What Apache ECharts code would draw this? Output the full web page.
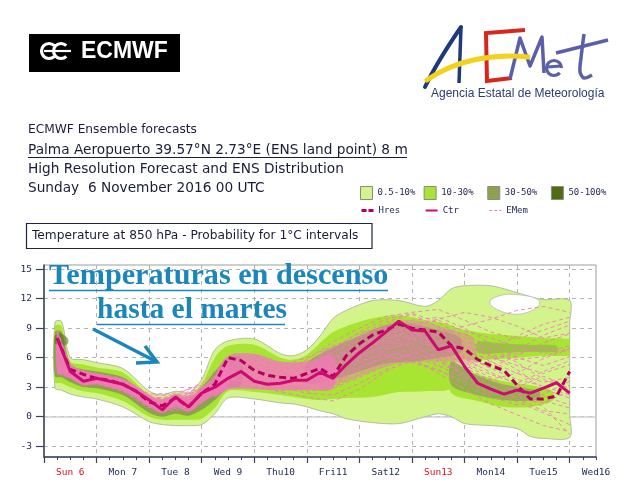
<!DOCTYPE html>
<html><head><meta charset="utf-8">
<script src="https://cdn.jsdelivr.net/npm/echarts@6/dist/echarts.min.js"></script>
<style>html,body{margin:0;padding:0;background:#fff}#c{width:636px;height:499px}</style>
</head><body><div id="c"></div>
<script>
// ---------- axis / tick data ----------
const dayLabels = ['Sun 6','Mon 7','Tue 8','Wed 9','Thu10','Fri11','Sat12','Sun13','Mon14','Tue15','Wed16'];
const labelHours = [12,36,60,84,108,132,156,180,204,228,252];
const dayTicks = [0,24,48,72,96,120,144,168,192,216,240];
const tempTicks = [-3,0,3,6,9,12,15];

// ---------- HRES and control (6-hourly lead times) ----------
const leadHours = [6,12,18,24,30,36,42,48,54,60,66,72,78,84,90,96,102,108,114,120,126,132,138,144,150,156,162,168,174,180,186,192,198,204,210,216,222,228,234,240];
const ctr  = [8.0,4.6,3.6,3.9,3.6,3.3,2.6,1.7,0.7,2.0,1.0,2.4,3.0,3.9,4.6,3.6,3.3,3.4,3.7,3.7,4.5,3.9,5.3,6.5,7.5,8.6,9.7,8.8,8.7,6.8,7.2,5.1,3.4,2.8,2.3,2.7,2.4,2.9,3.45,2.4];
const hres = [8.0,4.8,4.3,3.9,3.7,3.3,2.6,1.5,1.1,1.9,1.0,2.4,3.3,6.0,5.7,4.7,4.2,4.0,3.9,4.4,4.9,4.1,6.2,7.4,8.3,8.8,9.4,9.0,8.8,8.6,7.2,6.9,5.8,5.2,4.7,3.2,1.8,1.8,2.1,4.6];

// ---------- ensemble members (subset, 12-hourly) ----------
const memberHours = [6,12,18,24,36,48,60,72,84,96,108,120,132,144,156,168,180,192,204,216,228,240];
const mem01 = [7.6,4.9,3.9,3.7,3.0,1.2,1.5,2.9,4.8,4.2,3.6,4.6,5.8,7.2,8.6,7.9,7.0,6.2,4.9,3.8,3.1,2.2];
const mem02 = [8.8,5.2,4.1,4.2,3.7,2.0,1.3,2.0,5.1,5.6,4.4,4.0,4.5,6.0,7.4,9.2,9.8,8.7,8.0,7.1,6.5,7.2];
const mem03 = [5.0,4.4,3.4,3.5,3.1,1.4,0.8,1.8,4.2,4.6,3.1,2.9,3.3,4.8,6.1,6.9,5.2,3.9,2.6,1.5,0.4,-0.8];
const mem04 = [4.6,4.1,3.8,4.0,3.4,1.9,1.9,2.7,5.6,6.2,5.0,4.8,6.5,8.3,9.6,10.4,9.1,7.6,6.9,8.2,9.4,10.1];
const mem05 = [8.2,4.7,3.5,3.3,2.8,1.0,0.6,1.6,3.4,3.0,2.6,3.1,4.0,5.5,6.6,6.0,4.4,2.8,1.3,0.2,-0.9,-1.5];
const mem06 = [7.9,5.0,4.3,4.4,3.9,2.3,2.4,3.2,5.0,4.8,4.1,5.2,6.6,7.8,8.9,8.0,7.4,6.5,5.9,6.4,7.0,6.6];
const mem07 = [4.9,4.3,3.7,3.8,2.9,1.3,1.0,2.2,4.4,3.9,3.5,3.8,5.2,6.9,7.7,7.1,6.0,4.3,3.2,2.0,1.4,2.6];
const mem08 = [8.5,5.4,4.4,4.0,3.5,1.6,1.7,2.5,5.4,5.0,4.6,5.8,7.6,9.0,10.2,10.6,10.9,9.8,8.6,7.9,8.8,9.7];
const mem09 = [7.3,4.4,3.2,3.4,2.6,0.9,1.2,1.9,3.8,3.5,3.0,2.4,2.2,3.4,4.8,5.6,4.8,3.3,2.0,1.2,2.3,3.6];
const mem10 = [4.4,4.0,3.6,3.6,3.2,1.8,2.1,3.0,4.6,4.4,3.9,4.4,5.4,6.2,7.2,8.3,8.6,7.3,6.1,5.2,4.4,5.3];
const mem11 = [8.6,4.8,3.9,4.1,3.6,2.1,1.5,2.3,4.0,3.4,2.9,3.3,4.2,6.5,7.9,8.8,6.6,5.4,4.3,3.4,4.6,5.7];
const mem12 = [5.2,4.6,4.0,3.9,3.3,1.5,1.3,2.6,5.2,5.3,4.8,5.6,7.0,8.5,9.1,9.5,8.2,6.9,5.6,4.4,3.5,4.0];
const mem13 = [7.8,4.5,3.3,3.6,3.0,1.1,0.9,1.5,3.6,3.8,3.3,3.5,3.0,4.3,5.6,6.4,7.0,5.9,4.5,3.3,2.1,1.2];
const mem14 = [4.7,4.2,3.5,3.7,3.3,1.7,1.8,2.8,4.9,5.5,4.3,4.9,6.0,7.4,8.2,9.4,9.9,10.6,10.1,9.2,8.0,8.5];
const mem15 = [8.1,4.9,3.8,3.8,3.1,1.4,1.6,2.2,4.3,4.0,3.7,4.1,4.7,5.9,6.9,7.4,5.8,4.1,2.9,1.8,0.6,0.3];
const mem16 = [7.5,5.1,4.2,4.3,3.8,2.2,2.2,3.4,5.8,5.1,4.4,3.9,4.9,6.8,8.0,8.4,7.6,6.0,5.0,6.2,7.5,8.4];
const mem17 = [8.3,5.0,3.7,3.6,3.2,1.5,1.1,2.1,4.5,4.9,4.0,3.6,3.4,5.0,6.8,7.6,8.4,9.2,9.9,10.8,11.2,10.6];
const mem18 = [4.8,4.5,3.9,3.9,3.5,1.9,1.6,2.4,3.9,3.2,2.5,2.0,1.6,2.8,4.6,5.9,6.3,5.0,3.7,2.6,1.0,-1.8];
const mem19 = [7.7,4.6,3.6,3.5,2.9,1.2,1.4,2.6,5.2,5.9,5.2,6.0,7.2,8.1,9.0,8.6,7.8,7.1,6.3,5.8,6.1,7.0];
const mem20 = [5.1,4.3,3.5,3.8,3.3,1.6,1.9,2.9,4.7,4.1,3.3,3.8,4.6,5.7,6.3,5.5,4.7,3.6,2.4,3.0,4.1,3.1];
const mem21 = [8.4,4.8,4.0,4.2,3.7,2.0,1.8,2.4,4.1,4.6,4.1,4.6,5.5,7.0,8.7,9.8,10.1,9.0,7.4,6.0,5.2,6.1];
const mem22 = [4.6,4.1,3.4,3.6,3.0,1.3,1.2,2.0,4.0,3.6,3.4,2.6,2.9,4.0,5.2,6.6,5.6,4.4,3.8,4.4,5.9,6.9];
const mem23 = [8.0,5.3,4.2,4.1,3.4,1.7,1.4,2.7,5.5,5.8,4.9,5.5,6.1,6.7,7.6,8.1,8.9,8.4,7.0,5.5,3.8,2.9];
const mem24 = [7.2,4.4,3.3,3.5,3.1,1.4,1.6,2.3,4.5,4.3,3.6,4.3,5.0,6.3,7.1,7.9,6.8,5.2,4.0,2.3,1.6,0.9];
const mem25 = [4.9,4.4,3.8,4.0,3.6,1.8,1.7,2.5,4.3,4.9,4.6,5.2,6.9,8.6,9.9,10.5,9.6,8.0,6.2,4.8,2.8,1.9];
const mem26 = [8.7,5.1,4.0,3.9,3.3,1.5,1.0,1.8,3.7,3.9,3.1,3.0,3.8,5.1,6.0,6.2,5.1,4.9,5.6,6.8,8.3,9.3];
const members = [mem01,mem02,mem03,mem04,mem05,mem06,mem07,mem08,mem09,mem10,mem11,mem12,mem13,
                 mem14,mem15,mem16,mem17,mem18,mem19,mem20,mem21,mem22,mem23,mem24,mem25,mem26];

// ---------- probability areas (lower / upper edges) ----------
const outerHours = [5,8,12,18,24,36,48,54,60,66,72,78,84,96,108,114,120,126,132,138,150,162,174,180,186,192,204,216,222,228,240];
const outerLow  = [2.9,2.7,2.3,2.0,1.8,1.0,-0.5,-0.8,-0.9,-0.9,-0.8,0.3,1.9,1.8,1.4,1.3,1.0,0.6,0.3,-0.2,-0.6,-0.7,0.0,0.3,0.0,-0.7,-0.9,-1.2,-2.0,-2.2,-2.1];
const outerHigh = [9.6,9.7,6.0,5.8,5.5,4.9,2.6,2.2,2.6,2.4,3.8,6.8,7.7,7.9,6.4,6.2,6.8,8.2,10.0,10.8,11.8,11.8,11.2,11.8,13.0,13.3,13.3,12.6,12.2,11.9,11.8];
// gap (below 0.5 %) inside the outer area
const holeHours = [204,210,216,222,226];
const holeLow  = [11.3,10.6,10.4,10.7,11.3];
const holeHigh = [11.9,12.4,12.4,12.2,11.8];

const limeHours = [5,8,12,18,24,36,48,54,60,66,72,78,84,96,108,114,120,126,132,138,150,162,174,186];
const limeLow  = [3.5,3.4,3.0,2.6,2.4,1.6,0.0,-0.3,-0.3,-0.3,-0.2,0.9,2.6,2.5,2.2,2.0,1.8,1.7,1.8,1.9,2.0,2.5,2.6,3.0];
const limeHigh = [9.2,9.2,5.6,5.3,5.0,4.5,2.2,1.8,2.3,2.0,3.3,6.0,7.2,7.3,6.0,5.8,6.3,7.5,8.6,9.2,10.0,10.3,9.8,9.0];
const limeUpHours = [180,192,204,216,228,240];
const limeUpLow  = [6.0,5.8,5.8,6.0,6.2,6.2];
const limeUpHigh = [9.4,8.8,8.4,8.2,8.0,7.9];
const limeDnHours = [186,198,210,222,232];
const limeDnLow  = [2.4,1.6,1.0,1.0,1.6];
const limeDnHigh = [5.2,4.3,3.6,3.2,2.6];

const oliveHours = [5,8,12,18,24,36,48,54,60,66,72,78,84,90];
const oliveLow  = [4.1,4.0,3.5,3.0,2.9,2.2,0.4,0.0,0.3,0.1,0.7,1.7,2.9,3.2];
const oliveHigh = [8.6,8.6,5.3,4.8,4.6,4.0,2.0,1.6,2.2,1.8,3.0,4.6,6.0,6.0];
const oliveMidHours = [120,132,144,156,168,180,190];
const oliveMidLow  = [3.4,3.8,4.6,5.4,5.6,6.0,6.5];
const oliveMidHigh = [5.4,7.0,8.2,9.3,9.4,8.8,8.0];
const oliveUpHours = [198,210,222,234];
const oliveUpLow  = [6.5,6.5,6.6,6.6];
const oliveUpHigh = [7.6,7.4,7.3,7.2];
const oliveDnHours = [186,196,206,216,226];
const oliveDnLow  = [3.2,2.3,1.8,1.6,1.8];
const oliveDnHigh = [5.6,4.4,3.5,3.0,2.6];

const darkHours = [5,7,9,11];
const darkLow  = [7.4,7.3,7.2,7.5];
const darkHigh = [8.2,8.5,8.3,7.9];

// dense member cloud
const coreHours = [6,9,12,18,24,30,36,42,48,54,60,66,72,78,84];
const coreLow  = [4.5,4.2,3.9,3.2,3.3,3.0,2.6,1.9,1.0,0.4,1.0,0.5,1.4,2.2,2.9];
const coreHigh = [8.6,6.8,5.2,4.7,4.4,4.1,3.8,3.1,2.2,1.6,2.3,1.8,2.8,3.8,5.8];
const cloudHours = [78,84,96,108,120,132];
const cloudLow  = [2.0,2.8,2.8,2.7,2.7,2.9];
const cloudHigh = [4.0,6.2,6.4,5.6,5.6,6.2];
const cloud2Hours = [126,138,150,162,174,186,196];
const cloud2Low  = [3.0,3.6,4.6,5.4,5.6,5.6,5.4];
const cloud2High = [6.4,7.6,8.8,9.8,9.6,8.8,8.0];

// ---------- build ----------
function band(name, hours, low, high, color, opacity, edge) {
  return {
    type:'custom', name:name, coordinateSystem:'cartesian2d', xAxisIndex:0, yAxisIndex:0,
    silent:true, clip:true, itemStyle:{color:color},
    data:hours.map((h,i)=>[h, low[i], high[i]]),
    encode:{x:0, y:[1,2]},
    renderItem:(params, api)=>{
      if (params.dataIndex !== 0) return null;
      const n = hours.length - 1;
      const top = hours.map((h,i)=>api.coord([h, high[i]]));
      const bot = hours.map((h,i)=>api.coord([h, low[i]])).reverse();
      let pts = top;
      if (hours[n] >= 240) {   // cut straight at the last lead time
        const mid = [];
        for (let k = 1; k < 6; k++) mid.push(api.coord([hours[n], high[n] + (low[n]-high[n])*k/6]));
        pts = pts.concat(mid);
      }
      pts = pts.concat(bot);
      return {type:'polygon', shape:{points:pts, smooth:0.3},
              style:{fill:color, opacity:opacity, stroke:edge || null, lineWidth:edge ? 0.8 : 0}};
    }
  };
}
const series = [];
series.push(band('0.5-10%', outerHours, outerLow, outerHigh, '#d3f48a', 1, '#a6ae98'));
series.push(band('hole', holeHours, holeLow, holeHigh, '#ffffff', 1, '#b8bcae'));
series.push(band('10-30%', limeHours, limeLow, limeHigh, '#a8e432', 1));
series.push(band('10-30%', limeUpHours, limeUpLow, limeUpHigh, '#a8e432', 1));
series.push(band('10-30%', limeDnHours, limeDnLow, limeDnHigh, '#a8e432', 1));
series.push(band('30-50%', oliveHours, oliveLow, oliveHigh, '#8ea152', 1));
series.push(band('30-50%', oliveMidHours, oliveMidLow, oliveMidHigh, '#8ea152', 0.85));
series.push(band('30-50%', oliveUpHours, oliveUpLow, oliveUpHigh, '#8ea152', 0.5));
series.push(band('30-50%', oliveDnHours, oliveDnLow, oliveDnHigh, '#8ea152', 0.8));
series.push(band('cloud', cloudHours, cloudLow, cloudHigh, '#f07ab5', 0.8));
series.push(band('cloud2', cloud2Hours, cloud2Low, cloud2High, '#f07ab5', 0.45));
series.push(band('core', coreHours, coreLow, coreHigh, '#f07ab5', 0.92));
series.push(band('50-100%', darkHours, darkLow, darkHigh, '#4f6c14', 0.55));
members.forEach(m => series.push({type:'line', name:'EMem', data:memberHours.map((h,i)=>[h, m[i]]), symbol:'none', silent:true,
  lineStyle:{color:'#f27cb8', width:0.9, type:[4,3]}, itemStyle:{color:'#f27cb8'}}));
series.push({type:'line', name:'Hres', data:leadHours.map((h,i)=>[h, hres[i]]), symbol:'none', silent:true,
  lineStyle:{color:'#b3005c', width:3, type:[7,4]}, itemStyle:{color:'#b3005c'}});
series.push({type:'line', name:'Ctr', data:leadHours.map((h,i)=>[h, ctr[i]]), symbol:'none', silent:true,
  lineStyle:{color:'#cc0a70', width:3}, itemStyle:{color:'#cc0a70'}});

const navy = '#1e2650';
const axisCol = '#3a4262';
const txt = (text, x, y, font, fill) => ({type:'text', z:100, style:{text, x, y, font, fill, align:'left', verticalAlign:'middle', textAlign:'left', textVerticalAlign:'middle'}});
const ln = (x1,y1,x2,y2,stroke,w) => ({type:'line', z:100, shape:{x1,y1,x2,y2}, style:{stroke, lineWidth:w}});
const teal = '#1a86bb';
const hdr = '#1a1c3c';

const graphics = [
  // ECMWF logo
  {type:'rect', z:100, shape:{x:29, y:34, width:151, height:38}, style:{fill:'#000'}},
  {type:'arc', z:101, shape:{cx:49, cy:51, r:7.5, startAngle:Math.PI/4, endAngle:Math.PI*7/4, clockwise:true}, style:{stroke:'#fff', lineWidth:3.2, fill:null}},
  {type:'arc', z:101, shape:{cx:61, cy:51, r:7.5, startAngle:Math.PI/4, endAngle:Math.PI*7/4, clockwise:true}, style:{stroke:'#fff', lineWidth:3.2, fill:null}},
  ln(44,51,71,51,'#fff',2.2),
  txt('ECMWF', 81, 52, 'bold 23px "Liberation Sans"', '#fff'),
  // AEMet logo
  {type:'bezierCurve', z:100, shape:{x1:425, y1:87, x2:461, y2:27, cpx1:437, cpy1:62}, style:{stroke:'#1f3a7c', lineWidth:4, fill:null, lineCap:'round'}},
  ln(461,27,459,83,'#1f3a7c',3.5),
  {type:'bezierCurve', z:101, shape:{x1:427, y1:80, x2:528, y2:57, cpx1:455, cpy1:60, cpx2:495, cpy2:53}, style:{stroke:'#f2d21c', lineWidth:5, fill:null, lineCap:'round'}},
  {type:'polyline', z:100, shape:{points:[[525,30],[486,33],[487,81],[512,78]]}, style:{stroke:'#d8261c', lineWidth:4, fill:null}},
  {type:'polyline', z:100, shape:{points:[[510,79],[520,38],[530,66],[542,37],[544,73]]}, style:{stroke:'#5b5faa', lineWidth:3.5, fill:null, lineJoin:'round'}},
  ln(547,67,561,66,'#5b5faa',3),
  {type:'arc', z:100, shape:{cx:554, cy:68, r:7.5, startAngle:0, endAngle:0.7, clockwise:false}, style:{stroke:'#5b5faa', lineWidth:3.2, fill:null}},
  {type:'polyline', z:100, shape:{points:[[584,34],[581,58],[580,72],[584,78],[592,75]], smooth:0.3}, style:{stroke:'#5b5faa', lineWidth:3.5, fill:null}},
  ln(556,53,608,40,'#5b5faa',3.5),
  txt('Agencia Estatal de Meteorología', 431, 94, '12px "Liberation Sans"', '#2b3c70'),
  // header text
  txt('ECMWF Ensemble forecasts', 28, 130, '12.2px "DejaVu Sans"', hdr),
  txt('Palma Aeropuerto 39.57°N 2.73°E (ENS land point) 8 m', 28, 150, '13.7px "DejaVu Sans"', hdr),
  ln(28,157.5,407,157.5,hdr,1),
  txt('High Resolution Forecast and ENS Distribution', 28, 169, '13.7px "DejaVu Sans"', hdr),
  txt('Sunday  6 November 2016 00 UTC', 28, 188, '13.7px "DejaVu Sans"', hdr),
  {type:'rect', z:100, shape:{x:26.5, y:223.5, width:345.5, height:25}, style:{stroke:'#1c2448', lineWidth:1.2, fill:null}},
  txt('Temperature at 850 hPa - Probability for 1°C intervals', 32, 236, '12.2px "DejaVu Sans"', hdr),
  // overlay annotation
  txt('Temperaturas en descenso', 49, 276.5, 'bold 30.2px "Liberation Serif"', teal),
  ln(49,290.5,388,290.5,teal,1.5),
  txt('hasta el martes', 97, 310.5, 'bold 29.5px "Liberation Serif"', teal),
  ln(97,324.5,285,324.5,teal,1.5),
  ln(93,329,157,362,teal,3.5),
  {type:'polyline', z:100, shape:{points:[[145,346],[157,362],[136,363]]}, style:{stroke:teal, lineWidth:3.5, fill:null}}
];

const legendText = {color:navy, fontFamily:'DejaVu Sans Mono', fontSize:9};
const pad7 = (n) => (n + '       ').slice(0, 7);
const option = {
  animation:false,
  backgroundColor:'#ffffff',
  grid:{left:44, right:40, top:265, bottom:42, show:true, borderColor:'#9d9d9d', borderWidth:1, backgroundColor:'rgba(0,0,0,0)'},
  legend:[
    {data:['0.5-10%','10-30%','30-50%','50-100%'], left:360, top:186, padding:0, orient:'horizontal', icon:'rect',
     itemWidth:12, itemHeight:13, itemGap:8.2, selectedMode:false, formatter:pad7,
     itemStyle:{borderColor:'#8a8a8a', borderWidth:1, opacity:1}, textStyle:legendText},
    {data:[{name:'Hres', lineStyle:{type:[5,2], width:3}}, {name:'Ctr'}, {name:'EMem', lineStyle:{type:[3,2], width:1}}],
     left:360, top:206, padding:0, orient:'horizontal', itemWidth:12, itemHeight:8, itemGap:8.2, selectedMode:false,
     formatter:pad7, itemStyle:{opacity:0}, textStyle:legendText}
  ],
  xAxis:[
    {type:'value', min:0, max:252, interval:24,
     axisLine:{show:true, onZero:false, lineStyle:{color:axisCol, width:1.5}},
     axisTick:{show:true, customValues:dayTicks, length:6, lineStyle:{color:axisCol, width:1.2}},
     axisLabel:{customValues:labelHours, margin:11, fontFamily:'DejaVu Sans Mono', fontSize:9.5, color:navy,
       formatter:(v)=>{const t = dayLabels[labelHours.indexOf(v)] || ''; return t.indexOf('Sun')===0 ? '{r|'+t+'}' : '{n|'+t+'}';},
       rich:{r:{color:'#e0141e', fontFamily:'DejaVu Sans Mono', fontSize:9.5}, n:{color:navy, fontFamily:'DejaVu Sans Mono', fontSize:9.5}}},
     splitLine:{show:true, lineStyle:{color:'#b4b4b4', type:[4,4], width:1}}},
    {type:'value', min:0, max:252, interval:6, position:'bottom',
     axisLine:{show:false, onZero:false}, axisTick:{show:true, length:3, lineStyle:{color:axisCol}},
     axisLabel:{show:false}, splitLine:{show:false}}
  ],
  yAxis:[
    {type:'value', min:-4.09, max:15.41,
     axisLine:{show:true, onZero:false, lineStyle:{color:axisCol, width:1.5}},
     axisTick:{show:true, customValues:tempTicks, length:8, lineStyle:{color:axisCol, width:1.2}},
     axisLabel:{customValues:tempTicks, margin:12, fontFamily:'DejaVu Sans Mono', fontSize:9.5, color:navy},
     splitLine:{show:true, lineStyle:{color:'#b4b4b4', type:[4,4], width:1}}},
    {type:'value', min:-4.09, max:15.41, position:'left',
     axisLine:{show:false, onZero:false}, axisTick:{show:false, customValues:[0]},
     axisLabel:{show:false}, splitLine:{show:true, lineStyle:{color:'#d0d0d0', width:1.5}}}
  ],
  graphic:{elements:graphics},
  series:series
};
const chart = echarts.init(document.getElementById('c'));
chart.setOption(option);
</script>
</body></html>
